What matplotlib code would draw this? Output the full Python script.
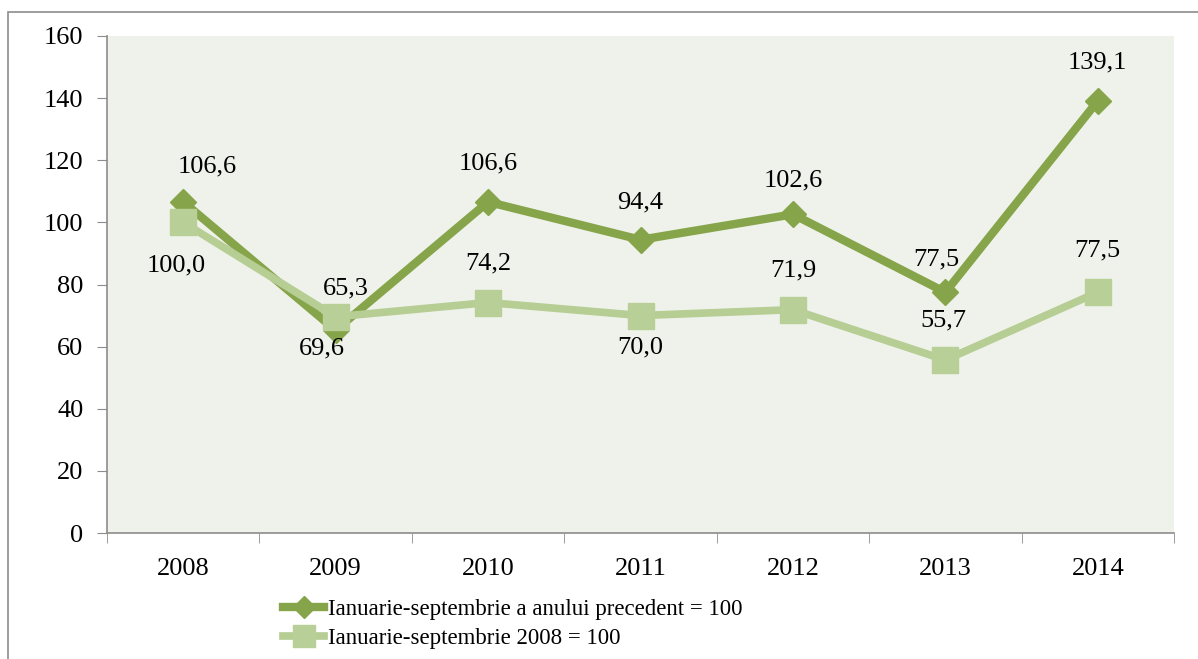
import matplotlib
matplotlib.use("Agg")
import matplotlib.pyplot as plt
from matplotlib.patches import Rectangle

years = ["2008", "2009", "2010", "2011", "2012", "2013", "2014"]
prev_year = [106.6, 65.3, 106.6, 94.4, 102.6, 77.5, 139.1]
base_2008 = [100.0, 69.6, 74.2, 70.0, 71.9, 55.7, 77.5]
label_prev = "Ianuarie-septembrie a anului precedent = 100"
label_base = "Ianuarie-septembrie 2008 = 100"

# label offsets in pixels (dx, dy)
off_prev = [(24, 35), (10, 42), (0, 38), (0, 37), (0, 34), (-9, 33), (0, 38)]
off_base = [(-7, -43), (-14, -32), (0, 39), (0, -32), (0, 39), (-2, 40), (0, 42)]

plt.rcParams['font.family'] = ['Liberation Serif', 'DejaVu Serif']

dark = "#86A44A"
light = "#B6CD94"
light_marker = "#B9CF98"

fig = plt.figure(figsize=(11.98, 6.59), dpi=100)
fig.patches.append(Rectangle((8 / 1198, -0.01), 1.0, 1 - 12 / 659 + 0.01,
                             transform=fig.transFigure, fill=False,
                             edgecolor="#8c8c8c", linewidth=1.2))
ax = fig.add_axes([107 / 1198, 1 - 533 / 659, (1174 - 107) / 1198, (533 - 36) / 659])
ax.set_facecolor("#EFF2EA")

x = list(range(len(years)))
ax.plot(x, prev_year, color=dark, linewidth=6, marker="D", markersize=13,
        markeredgecolor=dark, markerfacecolor=dark, label=label_prev, zorder=3)
ax.plot(x, base_2008, color=light, linewidth=5.5, marker="s", markersize=19,
        markeredgecolor=light_marker, markerfacecolor=light_marker, label=label_base, zorder=4)

for xi, v, (dx, dy) in zip(x, prev_year, off_prev):
    ax.annotate(f"{v:.1f}".replace(".", ","), (xi, v), xytext=(dx, dy),
                textcoords="offset pixels", ha="center", va="center", fontsize=19, zorder=5)
for xi, v, (dx, dy) in zip(x, base_2008, off_base):
    ax.annotate(f"{v:.1f}".replace(".", ","), (xi, v), xytext=(dx, dy),
                textcoords="offset pixels", ha="center", va="center", fontsize=19, zorder=5)

ax.set_xlim(-0.5, len(years) - 0.5)
ax.set_ylim(0, 160)
ax.set_yticks(range(0, 161, 20))
ax.set_xticks(x)
ax.set_xticklabels(years)
ax.set_xticks([i - 0.5 for i in range(len(years) + 1)], minor=True)
ax.tick_params(axis="x", which="major", length=0, pad=18, labelsize=19)
ax.tick_params(axis="x", which="minor", length=7, direction="out", color="#8c8c8c")
ax.tick_params(axis="y", length=7, direction="out", color="#8c8c8c", pad=10, labelsize=19)
for s in ["top", "right"]:
    ax.spines[s].set_visible(False)
for s in ["left", "bottom"]:
    ax.spines[s].set_color("#8c8c8c")
    ax.spines[s].set_linewidth(1.2)

leg = fig.legend(loc="upper left", bbox_to_anchor=(283 / 1198, 1 - 599 / 659),
                 frameon=False, fontsize=16.5, handlelength=1.8, handletextpad=0.15,
                 labelspacing=0.35, borderpad=0, borderaxespad=0, markerscale=0.85)

fig.savefig("out.png", dpi=100)
